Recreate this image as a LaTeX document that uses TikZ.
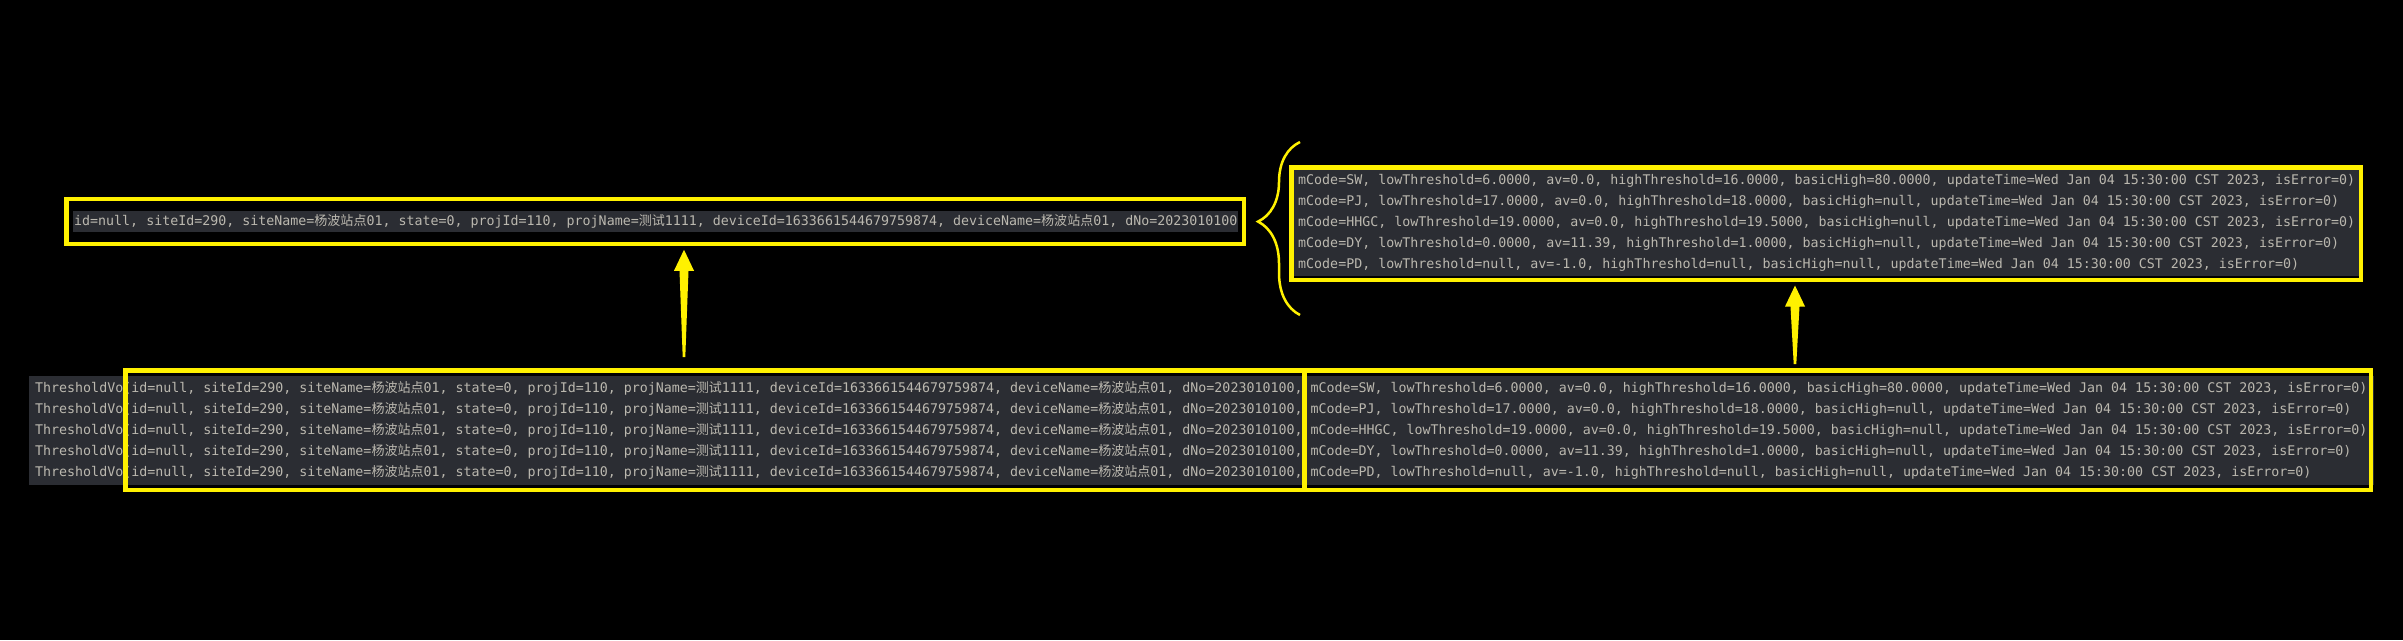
\documentclass[tikz,border=0pt]{standalone}
\usepackage{fontspec}
\setmonofont{DejaVu Sans Mono}
\newfontfamily\cjk{Noto Sans CJK SC}[Scale=0.98]
\usepackage{xcolor}
\usetikzlibrary{calc,decorations.pathreplacing}

\definecolor{hilite}{HTML}{FFF100}
\definecolor{consolebg}{HTML}{2B2D33}
\definecolor{logtext}{HTML}{BBB8AF}

\newcommand\siteinfo{id=null, siteId=290, siteName={\cjk 杨波站点}01, state=0, projId=110, projName={\cjk 测试}1111, deviceId=1633661544679759874, deviceName={\cjk 杨波站点}01, dNo=2023010100}
\newcommand\mSW{mCode=SW, lowThreshold=6.0000, av=0.0, highThreshold=16.0000, basicHigh=80.0000, updateTime=Wed Jan 04 15:30:00 CST 2023, isError=0)}
\newcommand\mPJ{mCode=PJ, lowThreshold=17.0000, av=0.0, highThreshold=18.0000, basicHigh=null, updateTime=Wed Jan 04 15:30:00 CST 2023, isError=0)}
\newcommand\mHHGC{mCode=HHGC, lowThreshold=19.0000, av=0.0, highThreshold=19.5000, basicHigh=null, updateTime=Wed Jan 04 15:30:00 CST 2023, isError=0)}
\newcommand\mDY{mCode=DY, lowThreshold=0.0000, av=11.39, highThreshold=1.0000, basicHigh=null, updateTime=Wed Jan 04 15:30:00 CST 2023, isError=0)}
\newcommand\mPD{mCode=PD, lowThreshold=null, av=-1.0, highThreshold=null, basicHigh=null, updateTime=Wed Jan 04 15:30:00 CST 2023, isError=0)}

\tikzset{
  frame/.style={draw=hilite, line width=4.5pt, inner sep=0pt},
  logline/.style={fill=consolebg, text=logtext, font=\fontsize{13.3}{21}\ttfamily, align=left, inner ysep=0pt},
  pointer/.style={fill=hilite},
  brace line/.style={draw=hilite, line width=2.5pt, decorate, decoration={brace, amplitude=42pt, aspect=0.54}}
}

\begin{document}
\begin{tikzpicture}[x=1pt,y=-1pt]
\fill[black] (0,0) rectangle (2403,640);

% console text
\node[logline, anchor=west, inner xsep=1pt, minimum height=21pt] (idtext) at (73,221.5) {\siteinfo};
\node[logline, anchor=north west, inner xsep=4pt, minimum width=1063pt, minimum height=106pt] (codetext) at (1294,170) {\mSW\\\mPJ\\\mHHGC\\\mDY\\\mPD};
\node[logline, anchor=west, inner xsep=6pt, minimum height=109pt] (rows) at (29,430.5)
  {ThresholdVo(\siteinfo, \mSW\\ThresholdVo(\siteinfo, \mPJ\\ThresholdVo(\siteinfo, \mHHGC\\ThresholdVo(\siteinfo, \mDY\\ThresholdVo(\siteinfo, \mPD};

% yellow frames
\node[frame, minimum width=1177.5pt, minimum height=45pt] (idframe) at (655,221.5) {};
\node[frame, minimum width=1069.5pt, minimum height=112.5pt] (codeframe) at (1826,223.5) {};
\node[frame, minimum width=1179.25pt, minimum height=119.5pt] (rowsid) at (714.9,430) {};
\node[frame, minimum width=1066.25pt, minimum height=119.5pt] (rowscode) at (1837.6,430) {};

% brace
\coordinate (braceTop) at (1300,142);
\coordinate (braceBot) at (1300,315);
\draw[brace line] (braceBot) -- (braceTop);

% arrows
\coordinate (tailA) at (684,357);
\coordinate (tipA) at ($(idframe.south -| tailA)+(0,3.5)$);
\fill[pointer] (tipA) -- ($(tipA)+(10,21)$) -- ($(tipA)+(4.5,21)$) -- ($(tailA)+(1.3,0)$)
  -- ($(tailA)+(-1.3,0)$) -- ($(tipA)+(-4.5,21)$) -- ($(tipA)+(-10,21)$) -- cycle;

\coordinate (tailB) at (1795,364);
\coordinate (tipB) at ($(codeframe.south -| tailB)+(0,3.5)$);
\fill[pointer] (tipB) -- ($(tipB)+(10,21)$) -- ($(tipB)+(4.5,21)$) -- ($(tailB)+(1.3,0)$)
  -- ($(tailB)+(-1.3,0)$) -- ($(tipB)+(-4.5,21)$) -- ($(tipB)+(-10,21)$) -- cycle;
\end{tikzpicture}
\end{document}
